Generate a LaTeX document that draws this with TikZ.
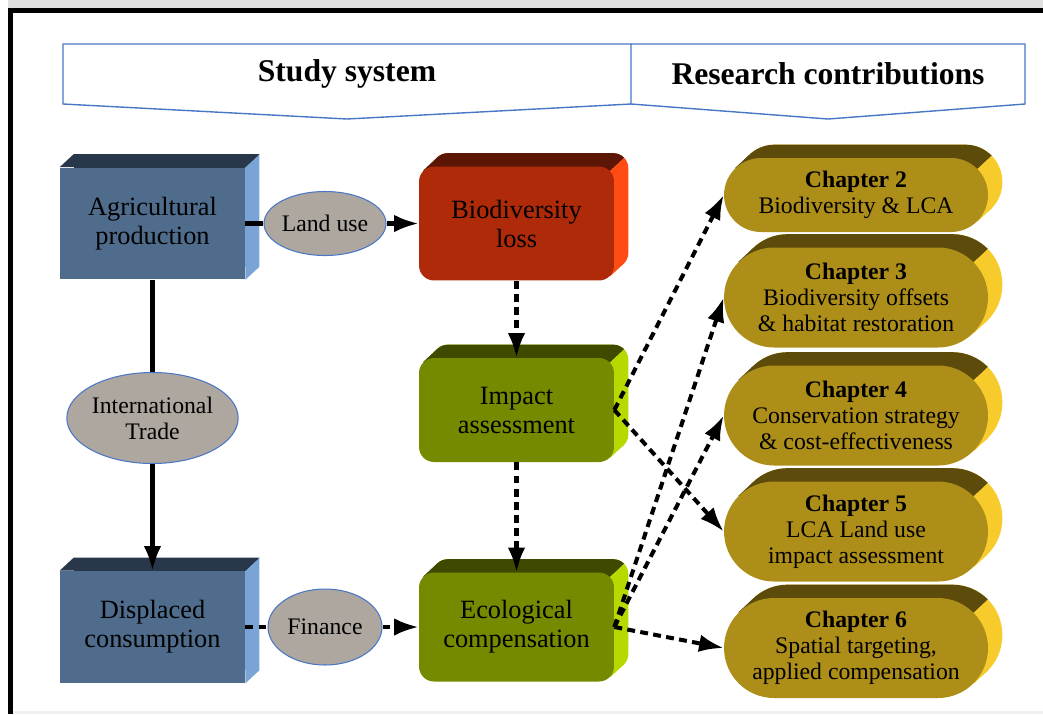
\documentclass[tikz,border=0pt]{standalone}
\usepackage{fontspec}
\setmainfont{Liberation Serif}
\usetikzlibrary{arrows.meta, backgrounds, shapes.geometric}
\definecolor{cubefront}{HTML}{4F6C8C}
\definecolor{cubetop}{HTML}{28384A}
\definecolor{cubeside}{HTML}{7AA3D6}
\definecolor{lossfront}{HTML}{AE2A09}
\definecolor{losstop}{HTML}{5C1606}
\definecolor{lossside}{HTML}{FF4C15}
\definecolor{greenfront}{HTML}{768A00}
\definecolor{greentop}{HTML}{3F4A00}
\definecolor{greenside}{HTML}{B8D800}
\definecolor{chapfront}{HTML}{AD8E18}
\definecolor{chaptop}{HTML}{5D4B0B}
\definecolor{chapside}{HTML}{F7CB2C}
\definecolor{stone}{HTML}{ADA79F}
\definecolor{frameblue}{HTML}{4A76C6}
\newcommand\boxfont{\fontsize{15}{16.5}\selectfont}
\newcommand\chapfont{\fontsize{13.5}{14.8}\selectfont}
\newcommand\headfont{\fontsize{18}{20}\selectfont\bfseries}
% #1 front node, #2 corner radius (px), #3 top colour, #4 side colour
\newcommand\extrude[4]{%
  \begin{scope}[on background layer]
    \coordinate (p1) at ([shift={(0.293*#2,0.293*#2)}]#1.north west);
    \coordinate (p4) at ([shift={(-0.293*#2,0.293*#2)}]#1.north east);
    \coordinate (q) at ([shift={(-0.293*#2,-0.293*#2)}]#1.south east);
    \fill[#4, rounded corners=#2*0.02cm] ([shift={(14,-13)}]#1.south west) rectangle ([shift={(14,-13)}]#1.north east);
    \fill[#4] (q) -- ++(14,-13) -- ([shift={(14,-13)}]p4) -- (p4) -- cycle;
    \begin{scope}
      \clip ([shift={(-280,260)}]p4) -- ([shift={(140,-130)}]p4) -- ++(-1000,0) -- ++(0,390) -- cycle;
      \fill[#3, rounded corners=#2*0.02cm] ([shift={(14,-13)}]#1.south west) rectangle ([shift={(14,-13)}]#1.north east);
      \fill[#3] (p1) -- ++(14,-13) -- ([shift={(14,-13)}]p4) -- (p4) -- cycle;
    \end{scope}
  \end{scope}}
\tikzset{
  cube/.style={rectangle, fill=cubefront, minimum width=3.7cm, minimum height=2.24cm, align=center, font=\boxfont},
  slab/.style={rectangle, rounded corners=0.3cm, minimum width=3.9cm, align=center, font=\boxfont},
  pill/.style={rectangle, fill=chapfront, minimum width=5.28cm, inner sep=0pt, align=center, font=\chapfont},
  flow/.style={ellipse, fill=stone, draw=frameblue, line width=0.6pt, inner sep=0pt, align=center, font=\chapfont},
  banner/.style={draw=frameblue, line width=0.8pt},
  htitle/.style={font=\headfont},
  link/.style={line width=2.3pt},
  dlink/.style={link, dash pattern=on 4.5pt off 3pt},
  arrowed/.style={-{Latex[length=14pt, width=10pt]}}
}
\begin{document}
\begin{tikzpicture}[x=0.02cm, y=-0.02cm]
  \useasboundingbox (0,0) rectangle (1043,714);
  % page frame
  \fill[black!12] (8,0) rectangle (1043,8);
  \fill (8,8) rectangle (1043,13);
  \fill (8,8) rectangle (13,714);
  \fill[black!6] (13,711) rectangle (1043,714);

  % banners
  \draw[banner] (63,44) -- (631,44) -- (631,104) -- (347,119) -- (63,104) -- cycle;
  \draw[banner] (631,44) -- (1025,44) -- (1025,104) -- (828,119) -- (631,104);
  \node[htitle] (study) at (347,74) {Study system};
  \node[htitle] (contrib) at (828,74) {Research contributions};

  % study system
  \node[cube] (agri) at (152.5,223.5) {Agricultural\\production};
  \node[cube] (disp) at (152.5,627) {Displaced\\consumption};
  \node[slab, fill=lossfront, minimum height=2.28cm] (loss) at (516.5,223.5) {Biodiversity\\loss};
  \node[slab, fill=greenfront, minimum height=2.08cm] (impact) at (516.5,410) {Impact\\assessment};
  \node[slab, fill=greenfront, minimum height=2.18cm] (comp) at (516.5,627) {Ecological\\compensation};
  \extrude{agri}{0}{cubetop}{cubeside}
  \extrude{disp}{0}{cubetop}{cubeside}
  \extrude{loss}{15}{losstop}{lossside}
  \extrude{impact}{15}{greentop}{greenside}
  \extrude{comp}{15}{greentop}{greenside}

  \node[flow, minimum width=2.4cm, minimum height=1.28cm] (land) at (325,223.5) {Land use};
  \node[flow, minimum width=3cm, minimum height=1.82cm] (trade) at (152.5,418) {International\\Trade};
  \node[flow, minimum width=2.28cm, minimum height=1.52cm] (fin) at (325,627) {Finance};

  % research contributions
  \foreach \n/\y/\r/\txt in {2/195/37/{Biodiversity \& LCA},
      3/297.5/50/{Biodiversity offsets\\\& habitat restoration},
      4/415.5/50/{Conservation strategy\\\& cost-effectiveness},
      5/531.5/50/{LCA Land use\\impact assessment},
      6/648/50/{Spatial targeting,\\applied compensation}} {
    \node[pill, minimum height=2*\r*0.02cm, rounded corners=\r*0.02cm] (ch\n) at (856,\y) {\textbf{Chapter \n}\\\txt};
    \extrude{ch\n}{\r}{chaptop}{chapside}
  }

  % connectors
  \draw[link] (agri) -- (land);
  \draw[link, arrowed] (land) -- (loss);
  \draw[link] (agri) -- (trade);
  \draw[link, arrowed] (trade) -- (disp);
  \draw[dlink] (disp) -- (fin);
  \draw[dlink, arrowed] (fin) -- (comp);
  \draw[dlink, arrowed] (loss) -- (impact);
  \draw[dlink, arrowed] (impact) -- (comp);
  \foreach \c in {2,5} \draw[dlink, arrowed] (impact.east) -- (ch\c.west);
  \foreach \c in {3,4,6} \draw[dlink, arrowed] (comp.east) -- (ch\c.west);
\end{tikzpicture}
\end{document}
